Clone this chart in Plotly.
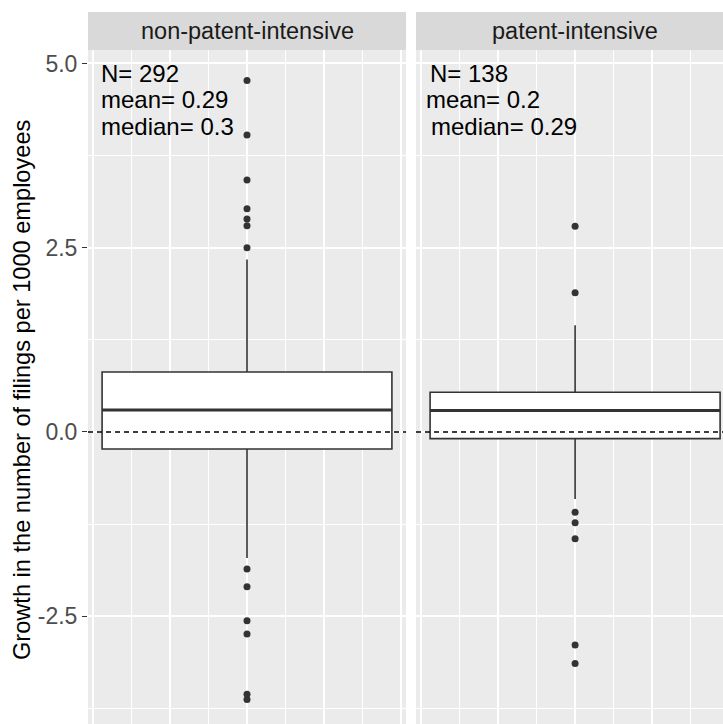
import plotly.graph_objects as go

# ---------------- data ----------------
facets = ["non-patent-intensive", "patent-intensive"]
n_obs = [292, 138]
means = ["0.29", "0.2"]
medians_txt = ["0.3", "0.29"]

q1 = [-0.23, -0.09]
median = [0.30, 0.29]
q3 = [0.815, 0.54]
lower_whisker = [-1.71, -0.91]
upper_whisker = [2.34, 1.45]

outliers_np = [4.77, 4.03, 3.42, 3.03, 2.89, 2.80, 2.50,
               -1.86, -2.10, -2.56, -2.74, -3.56, -3.63]
outliers_p = [2.79, 1.89, -1.09, -1.23, -1.45, -2.89, -3.14]
outliers = [outliers_np, outliers_p]

y_tickvals = [-2.5, 0.0, 2.5, 5.0]
y_ticktext = ["-2.5", "0.0", "2.5", "5.0"]
zero_line = 0.0

# ---------------- style ----------------
W, H = 723, 724
ML, MT = 88, 12
PW, PH = W - ML, H - MT
FONT = "Liberation Sans, Arial, sans-serif"
BOX_W = 0.751
Y_RANGE = [-3.962, 5.183]
X1_RANGE = [-0.412, 0.412]
X2_RANGE = [-0.412, 0.383]
panel_top = (H - 50) / PH
x_domains = [[0, 318 / PW], [328 / PW, 1]]

fig = go.Figure()

for i in range(2):
    xa = "x" if i == 0 else "x2"
    ya = "y" if i == 0 else "y2"
    fig.add_trace(go.Box(
        x=[0], q1=[q1[i]], median=[median[i]], q3=[q3[i]],
        lowerfence=[lower_whisker[i]], upperfence=[upper_whisker[i]],
        width=BOX_W, whiskerwidth=0, fillcolor="white",
        line=dict(color="#333333", width=1.6), boxpoints=False,
        showlegend=False, xaxis=xa, yaxis=ya, hoverinfo="skip"))
    # thick median line
    fig.add_trace(go.Scatter(
        x=[-BOX_W / 2, BOX_W / 2], y=[median[i], median[i]], mode="lines",
        line=dict(color="#333333", width=3), showlegend=False,
        xaxis=xa, yaxis=ya, hoverinfo="skip"))
    # outliers
    fig.add_trace(go.Scatter(
        x=[0] * len(outliers[i]), y=outliers[i], mode="markers",
        marker=dict(color="#333333", size=7), showlegend=False,
        xaxis=xa, yaxis=ya, hoverinfo="skip"))
    # dashed zero line
    fig.add_shape(type="line", xref=f"{xa} domain", x0=0, x1=1,
                  yref=ya, y0=zero_line, y1=zero_line, layer="above",
                  line=dict(color="black", width=1.3, dash="5px,4px"))
    # strip
    fig.add_shape(type="rect", xref="paper", yref="paper",
                  x0=x_domains[i][0], x1=x_domains[i][1],
                  y0=panel_top, y1=1, fillcolor="#D9D9D9", line_width=0,
                  layer="below")
    strip_center = (x_domains[i][0] + (x_domains[i][0] + 318 / PW)) / 2
    fig.add_annotation(text=facets[i], xref="paper", yref="paper",
                       x=strip_center, y=(panel_top + 1) / 2,
                       xanchor="center", yanchor="middle", showarrow=False,
                       font=dict(family=FONT, size=23.5, color="#1A1A1A"))

# stats text
text_x = [[-0.383, -0.383, -0.383], [-0.380, -0.392, -0.378]]
text_y = [4.86, 4.51, 4.15]
for i in range(2):
    xa = "x" if i == 0 else "x2"
    ya = "y" if i == 0 else "y2"
    lines = [f"N= {n_obs[i]}", f"mean= {means[i]}", f"median= {medians_txt[i]}"]
    for j, t in enumerate(lines):
        fig.add_annotation(text=t, xref=xa, yref=ya, x=text_x[i][j],
                           y=text_y[j], xanchor="left", yanchor="middle",
                           showarrow=False,
                           font=dict(family=FONT, size=24, color="black"))

# y axis title
fig.add_annotation(text="Growth in the number of filings per 1000 employees",
                   xref="paper", yref="paper", x=(22 - ML) / PW,
                   y=(H - 390) / PH, xanchor="center", yanchor="middle",
                   textangle=-90, showarrow=False,
                   font=dict(family=FONT, size=23.6, color="black"))

xcommon = dict(showticklabels=False, ticks="", zeroline=False,
               tickvals=[-0.4, -0.2, 0, 0.2, 0.4], showgrid=True,
               gridcolor="white", gridwidth=1.8,
               minor=dict(tickvals=[-0.3, -0.1, 0.1, 0.3], showgrid=True,
                          gridcolor="white", gridwidth=0.8),
               showline=False, fixedrange=True)
ycommon = dict(range=Y_RANGE, tickvals=y_tickvals, ticktext=y_ticktext,
               showgrid=True, gridcolor="white", gridwidth=1.8,
               minor=dict(tickvals=[-3.75, -1.25, 1.25, 3.75], showgrid=True,
                          gridcolor="white", gridwidth=0.8),
               zeroline=False, showline=False, domain=[0, panel_top])

fig.update_layout(
    width=W, height=H, margin=dict(l=ML, r=0, t=MT, b=0, pad=0),
    paper_bgcolor="white", plot_bgcolor="#EBEBEB",
    font=dict(family=FONT),
    xaxis=dict(domain=x_domains[0], range=X1_RANGE, anchor="y", **xcommon),
    xaxis2=dict(domain=x_domains[1], range=X2_RANGE, anchor="y2", **xcommon),
    yaxis=dict(anchor="x", ticks="outside", ticklen=5, tickwidth=1.2,
               tickcolor="#333333",
               tickfont=dict(family=FONT, size=23, color="#4D4D4D"),
               **ycommon),
    yaxis2=dict(anchor="x2", matches="y", showticklabels=False, ticks="",
                **ycommon),
)

fig.write_html("out.html")
